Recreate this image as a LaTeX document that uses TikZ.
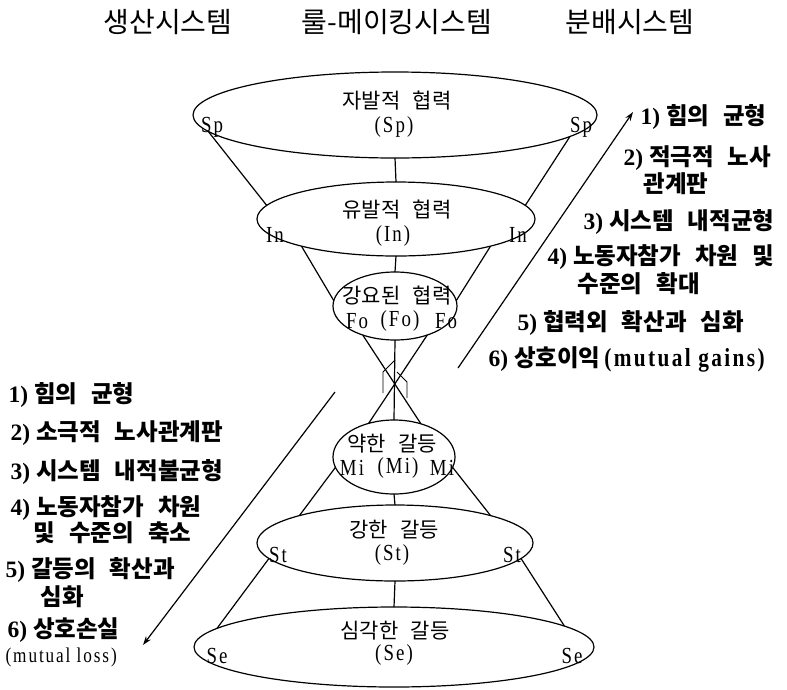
\documentclass[tikz,border=0pt]{standalone}
\usepackage{fontspec}
\setmainfont{Liberation Serif}
\newfontfamily\kr[WordSpace=2.6]{Noto Sans CJK KR}
\newfontfamily\lat[FakeStretch=0.82,LetterSpace=9]{Liberation Serif}
\newfontfamily\latb{Liberation Serif}
\newcommand\nlab[1]{{\latb\bfseries #1\ }}
\usetikzlibrary{shapes.geometric,arrows.meta}
\begin{document}
\begin{tikzpicture}[x=1pt,y=-1pt,line width=1.2pt,
  ell/.style={draw,ellipse,inner sep=0pt,outer sep=0pt},
  hd/.style={font=\kr\fontsize{28}{31}\selectfont,inner sep=0pt},
  et/.style={font=\kr\fontsize{21}{25}\selectfont,inner sep=0pt},
  lb/.style={font=\lat\fontsize{23}{27}\selectfont,inner sep=0pt},
  li/.style={anchor=west,inner sep=0pt,font=\kr\bfseries\fontsize{23.5}{27}\selectfont},
  arr/.style={-{Stealth[length=9pt,width=6pt]}},
  thinl/.style={line width=0.9pt}]
\useasboundingbox (0,0) rectangle (787,689);

% header
\node[hd] (h1) at (168,22) {생산시스템};
\node[hd] (h2) at (397,22) {룰-메이킹시스템};
\node[hd] (h3) at (630,22) {분배시스템};

% ellipses
\node[ell,minimum width=404,minimum height=86] (sp) at (395,115) {};
\node[ell,minimum width=278,minimum height=74] (in) at (396,219) {};
\node[ell,minimum width=124,minimum height=68] (fo) at (395,306) {};
\node[ell,minimum width=122,minimum height=74] (mi) at (394,457) {};
\node[ell,minimum width=276,minimum height=76] (st) at (395,543) {};
\node[ell,minimum width=400,minimum height=80] (se) at (394,647) {};

% vertical links
\draw (sp.south) -- (in.north);
\draw (in.south) -- (fo.north);
\draw (fo.south) -- (mi.north);
\draw (mi.south) -- (st.north);
\draw (st.south) -- (se.north);

% side links
\draw (sp.185.6) -- (in.174);
\draw (sp.353.7) -- (in.6);
\draw (in.196) -- (fo.175);
\draw (in.344) -- (fo.5);
\draw (fo.222) -- (mi.51);
\draw (fo.318) -- (mi.127);
\draw (mi.190) -- (st.164);
\draw (mi.350) -- (st.16);
\draw (st.187) -- (se.174);
\draw (st.353) -- (se.7);

% small strokes at the crossing
\draw[thinl] (395,360) -- (383,372) -- (383,393);
\draw[thinl] (397,372) -- (407,382) -- (407,398);

% ellipse texts
\node[et] (t1) at (397,101) {자발적 협력};
\node[lb] (t1c) at (394,127) {(Sp)};
\node[lb] (t1l) at (212,127) {Sp};
\node[lb] (t1r) at (581,127) {Sp};

\node[et] (t2) at (397,210) {유발적 협력};
\node[lb] (t2c) at (393,236) {(In)};
\node[lb] (t2l) at (275,235) {In};
\node[lb] (t2r) at (518,235) {In};

\node[et] (t3) at (397,296) {강요된 협력};
\node[lb] (t3c) at (400,321) {(Fo)};
\node[lb] (t3l) at (357,321) {Fo};
\node[lb] (t3r) at (446,321) {Fo};

\node[et] (t4) at (392,444) {약한 갈등};
\node[lb] (t4c) at (398,468) {(Mi)};
\node[lb] (t4l) at (352,468) {Mi};
\node[lb] (t4r) at (442,468) {Mi};

\node[et] (t5) at (394,530) {강한 갈등};
\node[lb] (t5c) at (392,555) {(St)};
\node[lb] (t5l) at (278,555) {St};
\node[lb] (t5r) at (512,555) {St};

\node[et] (t6) at (395,631) {심각한 갈등};
\node[lb] (t6c) at (394,655) {(Se)};
\node[lb] (t6l) at (217,656) {Se};
\node[lb] (t6r) at (572,656) {Se};

% arrows
\coordinate (ra1) at (458,368);
\coordinate (ra2) at (633,112);
\draw[arr] (ra1) -- (ra2);
\coordinate (la1) at (335,392);
\coordinate (la2) at (143,645);
\draw[arr] (la1) -- (la2);

% right list
\node[li] (r1) at (640,117) {\nlab{1)}힘의 균형};
\node[li] (r2) at (623,158) {\nlab{2)}적극적 노사};
\node[li] (r2b) at (643,184) {관계판};
\node[li] (r3) at (583,222) {\nlab{3)}시스템 내적균형};
\node[li] (r4) at (547,257) {\nlab{4)}노동자참가 차원 및};
\node[li] (r4b) at (577,284) {수준의 확대};
\node[li] (r5) at (517,323) {\nlab{5)}협력외 확산과 심화};
\node[li] (r6) at (488,359) {\nlab{6)}상호이익\,{\lat\fontsize{26}{30}\selectfont (mutual gains)}};

% left list
\node[li] (l1) at (8,395) {\nlab{1)}힘의 균형};
\node[li] (l2) at (10,433) {\nlab{2)}소극적 노사관계판};
\node[li] (l3) at (10,472) {\nlab{3)}시스템 내적불균형};
\node[li] (l4) at (10,508) {\nlab{4)}노동자참가 차원};
\node[li] (l4b) at (33,533) {및 수준의 축소};
\node[li] (l5) at (5,570) {\nlab{5)}갈등의 확산과};
\node[li] (l5b) at (40,597) {심화};
\node[li] (l6) at (7,630) {\nlab{6)}상호손실};
\node[li,font=\lat\fontsize{21}{24}\selectfont] (l6b) at (5,657) {(mutual loss)};
\end{tikzpicture}
\end{document}
